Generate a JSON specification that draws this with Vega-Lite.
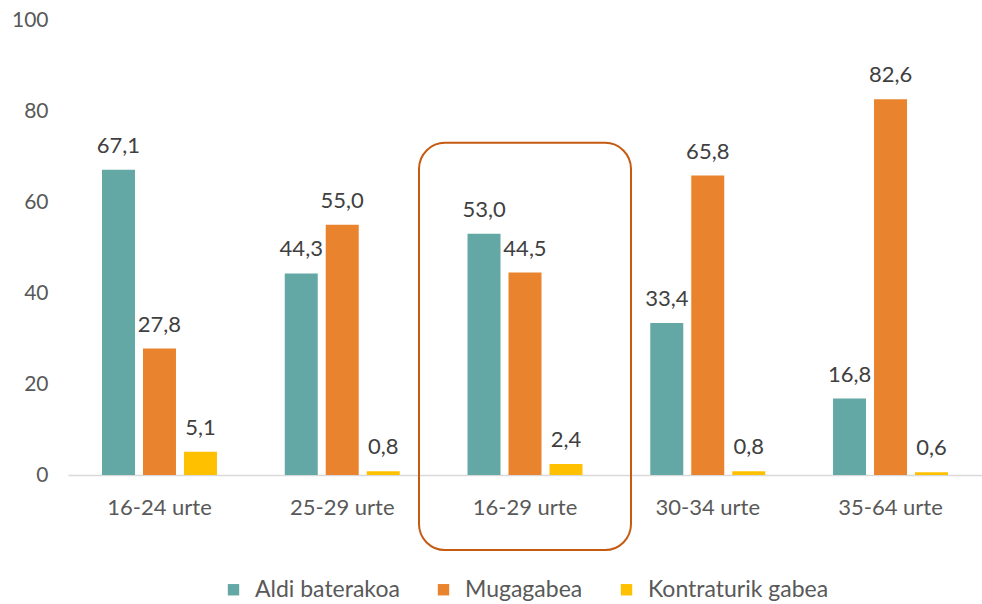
{
  "$schema": "https://vega.github.io/schema/vega-lite/v6.json",
  "width": 914,
  "height": 455,
  "autosize": {"type": "none"},
  "padding": {"left": 68, "top": 20, "right": 0, "bottom": 129},
  "background": "white",
  "config": {
    "locale": {"number": {"decimal": ",", "thousands": ".", "grouping": [3], "currency": ["", " €"]}},
    "view": {"stroke": null},
    "font": "Lato",
    "legend": {"layout": {"bottom": {"anchor": "middle"}}}
  },
  "datasets": {
    "bars": [
      {"group": "16-24 urte", "series": "Aldi baterakoa", "value": 67.1},
      {"group": "16-24 urte", "series": "Mugagabea", "value": 27.8},
      {"group": "16-24 urte", "series": "Kontraturik gabea", "value": 5.1},
      {"group": "25-29 urte", "series": "Aldi baterakoa", "value": 44.3},
      {"group": "25-29 urte", "series": "Mugagabea", "value": 55.0},
      {"group": "25-29 urte", "series": "Kontraturik gabea", "value": 0.8},
      {"group": "16-29 urte", "series": "Aldi baterakoa", "value": 53.0},
      {"group": "16-29 urte", "series": "Mugagabea", "value": 44.5},
      {"group": "16-29 urte", "series": "Kontraturik gabea", "value": 2.4},
      {"group": "30-34 urte", "series": "Aldi baterakoa", "value": 33.4},
      {"group": "30-34 urte", "series": "Mugagabea", "value": 65.8},
      {"group": "30-34 urte", "series": "Kontraturik gabea", "value": 0.8},
      {"group": "35-64 urte", "series": "Aldi baterakoa", "value": 16.8},
      {"group": "35-64 urte", "series": "Mugagabea", "value": 82.6},
      {"group": "35-64 urte", "series": "Kontraturik gabea", "value": 0.6}
    ],
    "highlight": [
      {"group": "16-29 urte", "top": 73, "bottom": -16.5}
    ]
  },
  "layer": [
    {
      "data": {"name": "bars"},
      "mark": {"type": "bar"},
      "encoding": {
        "x": {
          "field": "group", "type": "nominal", "sort": null,
          "scale": {"paddingInner": 0.371, "paddingOuter": 0.186},
          "axis": {
            "title": null, "labelAngle": 0, "ticks": false, "domainColor": "#D9D9D9", "domainWidth": 1.5,
            "labelFont": "Lato", "labelFontSize": 22, "labelColor": "#595959", "labelPadding": 22
          }
        },
        "xOffset": {"field": "series", "type": "nominal", "sort": null, "scale": {"paddingInner": 0.195, "paddingOuter": 0}},
        "y": {
          "field": "value", "type": "quantitative",
          "scale": {"domain": [0, 100], "nice": false, "zero": true},
          "axis": {
            "title": null, "values": [0, 20, 40, 60, 80, 100], "grid": false, "domain": false, "ticks": false,
            "labelFont": "Lato", "labelFontSize": 21, "labelColor": "#595959", "labelPadding": 20
          }
        },
        "color": {
          "field": "series", "type": "nominal", "sort": null,
          "scale": {"domain": ["Aldi baterakoa", "Mugagabea", "Kontraturik gabea"], "range": ["#63A8A5", "#E9832D", "#FFC000"]},
          "legend": {
            "title": null, "orient": "bottom", "direction": "horizontal", "symbolType": "square", "symbolSize": 130,
            "symbolStrokeWidth": 0, "labelFont": "Lato", "labelFontSize": 23, "labelColor": "#595959", "labelLimit": 400,
            "columnPadding": 32, "labelOffset": 10, "offset": 60
          }
        }
      }
    },
    {
      "data": {"name": "bars"},
      "mark": {"type": "text", "baseline": "alphabetic", "dy": -17, "font": "Lato", "fontSize": 22, "color": "#404040"},
      "encoding": {
        "x": {"field": "group", "type": "nominal", "sort": null},
        "xOffset": {"field": "series", "type": "nominal", "sort": null},
        "y": {"field": "value", "type": "quantitative"},
        "text": {"field": "value", "type": "quantitative", "format": ".1f"}
      }
    },
    {
      "data": {"name": "highlight"},
      "mark": {"type": "bar", "width": 212, "cornerRadius": 26, "fill": null, "fillOpacity": 0, "stroke": "#C55A11", "strokeWidth": 2},
      "encoding": {
        "x": {"field": "group", "type": "nominal", "sort": null},
        "y": {"field": "top", "type": "quantitative"},
        "y2": {"field": "bottom"}
      }
    }
  ]
}
